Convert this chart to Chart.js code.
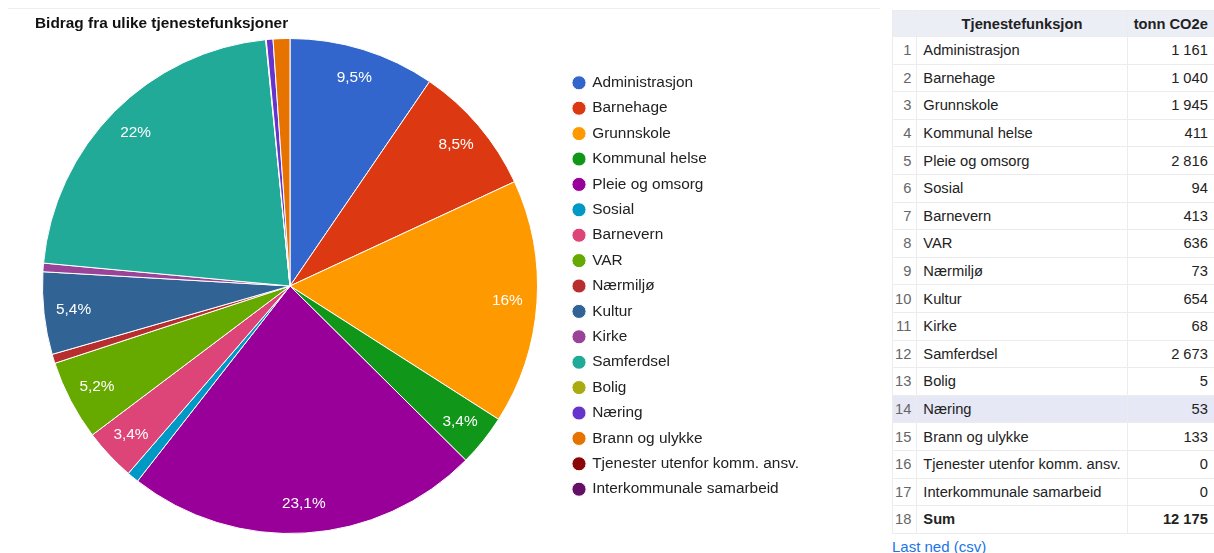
<!DOCTYPE html>
<html>
<head>
<meta charset="utf-8">
<script src="https://cdn.jsdelivr.net/npm/chart.js@4"></script>
<style>
  body { margin: 0; background: #fff; font-family: "Liberation Sans", Arial, sans-serif; }
  #topline { position: absolute; left: 8px; top: 8px; width: 872px; border-top: 1px solid #eeeeee; }
  #title { position: absolute; left: 35px; top: 14px; font-size: 15.4px; font-weight: bold; color: #111; }
  #chartBox { position: absolute; left: 0; top: 0; width: 880px; height: 553px; }
  #tableBox { position: absolute; left: 892px; top: 10px; width: 322px; }
  table { border-collapse: collapse; width: 322px; font-size: 14.7px; color: #222; }
  th, td { height: 26.6px; padding: 0 6px; border: 1px solid #ececec; white-space: nowrap; }
  th { background: #eceef6; font-weight: bold; text-align: center; height: 25px; }
  td.idx { color: #666; text-align: right; width: 18px; padding: 0 5px 0 2px; }
  td.val { text-align: right; }
  tr.hl td { background: #e6e8f5; }
  tr.sum td { font-weight: bold; }
  tr.sum td.idx { font-weight: normal; }
  #csv { margin-top: 4px; font-size: 15px; color: #1a73e8; }
</style>
</head>
<body>
<div id="topline"></div>
<div id="chartBox"><canvas id="pieChart"></canvas></div>
<div id="title">Bidrag fra ulike tjenestefunksjoner</div>
<div id="tableBox">
  <table id="dataTable">
    <thead><tr><th></th><th>Tjenestefunksjon</th><th>tonn CO2e</th></tr></thead>
    <tbody></tbody>
  </table>
  <div id="csv">Last ned (csv)</div>
</div>
<script>
// Categories (service functions)
var categories = ['Administrasjon', 'Barnehage', 'Grunnskole', 'Kommunal helse', 'Pleie og omsorg',
  'Sosial', 'Barnevern', 'VAR', 'Nærmiljø', 'Kultur', 'Kirke', 'Samferdsel', 'Bolig', 'Næring',
  'Brann og ulykke', 'Tjenester utenfor komm. ansv.', 'Interkommunale samarbeid'];

// tonn CO2e per category
var emissions = [1161, 1040, 1945, 411, 2816, 94, 413, 636, 73, 654, 68, 2673, 5, 53, 133, 0, 0];

var sliceColors = ['#3366cc', '#dc3912', '#ff9900', '#109618', '#990099', '#0099c6', '#dd4477',
  '#66aa00', '#b82e2e', '#316395', '#994499', '#22aa99', '#aaaa11', '#6633cc', '#e67300',
  '#8b0707', '#651067'];

var total = emissions.reduce(function(a, b) { return a + b; }, 0);

function formatNumber(n) {
  return String(n).replace(/\B(?=(\d{3})+(?!\d))/g, ' ');
}

function formatPercent(v) {
  var s = (v / total * 100).toFixed(1);
  if (s.slice(-2) === '.0') s = s.slice(0, -2);
  return s.replace('.', ',') + '%';
}

// Fill the table from the same arrays
var tbody = document.querySelector('#dataTable tbody');
categories.forEach(function(name, i) {
  var tr = document.createElement('tr');
  if (name === 'Næring') tr.className = 'hl';
  tr.innerHTML = '<td class="idx">' + (i + 1) + '</td><td>' + name + '</td><td class="val">' +
    formatNumber(emissions[i]) + '</td>';
  tbody.appendChild(tr);
});
var sumRow = document.createElement('tr');
sumRow.className = 'sum';
sumRow.innerHTML = '<td class="idx">' + (categories.length + 1) + '</td><td>Sum</td><td class="val">' +
  formatNumber(total) + '</td>';
tbody.appendChild(sumRow);

// Percent labels inside the slices
var sliceLabels = {
  id: 'sliceLabels',
  afterDatasetsDraw: function(chart) {
    var ctx = chart.ctx;
    var meta = chart.getDatasetMeta(0);
    ctx.save();
    ctx.fillStyle = '#ffffff';
    ctx.font = '15.4px "Liberation Sans", Arial, sans-serif';
    ctx.textAlign = 'center';
    ctx.textBaseline = 'middle';
    meta.data.forEach(function(arc, i) {
      var v = emissions[i];
      if (v / total < 0.02) return;
      var p = arc.getProps(['x', 'y', 'startAngle', 'endAngle', 'outerRadius'], true);
      var mid = (p.startAngle + p.endAngle) / 2;
      var r = p.outerRadius * 0.88;
      ctx.fillText(formatPercent(v), p.x + Math.cos(mid) * r, p.y + Math.sin(mid) * r);
    });
    ctx.restore();
  }
};

Chart.defaults.font.family = '"Liberation Sans", Arial, sans-serif';

var pieCtx = document.getElementById('pieChart').getContext('2d');
var pieChart = new Chart(pieCtx, {
  type: 'pie',
  data: {
    labels: categories,
    datasets: [{
      data: emissions,
      backgroundColor: sliceColors,
      borderColor: '#ffffff',
      borderWidth: 1
    }]
  },
  options: {
    responsive: true,
    maintainAspectRatio: false,
    animation: false,
    layout: {
      padding: { left: 16.5, top: 38, bottom: 19, right: 76.5 }
    },
    plugins: {
      tooltip: { enabled: false },
      legend: {
        position: 'right',
        align: 'center',
        maxWidth: 240,
        labels: {
          usePointStyle: true,
          pointStyle: 'circle',
          boxWidth: 11,
          boxHeight: 10,
          padding: 10,
          color: '#222222',
          font: { size: 15.4 }
        }
      }
    }
  },
  plugins: [sliceLabels]
});
</script>
</body>
</html>
